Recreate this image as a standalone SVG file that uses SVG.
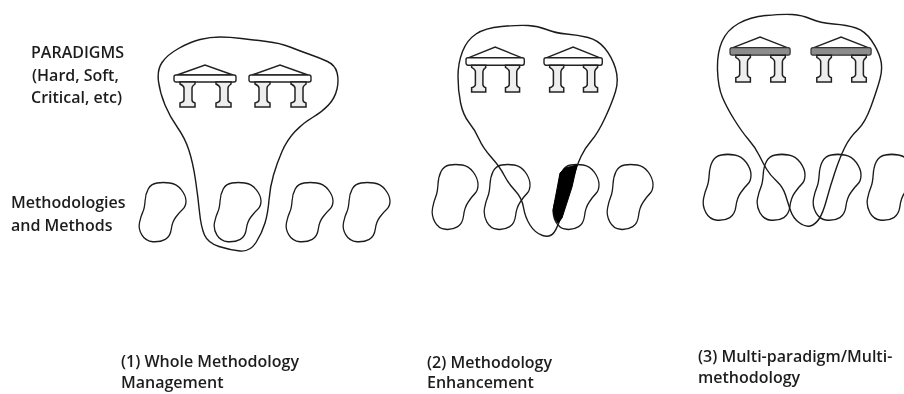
<svg xmlns="http://www.w3.org/2000/svg" width="904" height="394" viewBox="0 0 904 394">
<style>
.o{fill:none;stroke:#1a1a1a;stroke-width:1.4;stroke-linejoin:round}
.b{fill:none;stroke:#1a1a1a;stroke-width:1.4;vector-effect:non-scaling-stroke}
.t{fill:#fff;stroke:#222;stroke-width:1.4;vector-effect:non-scaling-stroke}
.c{fill:#eee;stroke:#222;stroke-width:1.5;vector-effect:non-scaling-stroke}
.tg{fill:#8c8c8c;stroke:#333;stroke-width:1.2;vector-effect:non-scaling-stroke}
text{font-family:"Open Sans","Liberation Sans",sans-serif;font-size:16px;font-weight:600;fill:#1f1f1f}
</style>
<defs>
<filter id="soft" x="-2%" y="-2%" width="104%" height="104%"><feGaussianBlur stdDeviation="0.35"/></filter>
<path id="blob" d="M9,5 Q12,0 18.5,-1 Q25,-2 32.5,-1 Q40,0 45,6 Q50,12 50,17.5 Q50,23 46.5,26 Q43,29 39,34 Q35,39 34,46.5 Q33,54 27.5,57 Q22,60 14,59.5 Q6,59 2,52.5 Q-2,46 -.5,39.5 Q1,33 3,29 Q5,25 5.5,17.5 Q6,10 9,5 Z"/>
<g id="temple">
<path class="t" d="M3,10 L31,0 L59,10 Z"/>
<rect class="t" x="0" y="10" width="62" height="7" rx="2"/>
<path class="c" d="M6,17 H21 V19 Q18,21 18,23 V35 Q18,37 21,38 V42 H6 V38 Q10,37 10,35 V23 Q10,21 6,19 Z"/>
<path class="c" d="M42,17 H57 V19 Q54,21 54,23 V35 Q54,37 57,38 V42 H42 V38 Q46,37 46,35 V23 Q46,21 42,19 Z"/>
</g>
<g id="templeg">
<path class="t" d="M3,10 L31,0 L59,10 Z"/>
<rect class="tg" x="0" y="10" width="62" height="7" rx="2"/>
<path class="c" d="M6,17 H21 V19 Q18,21 18,23 V35 Q18,37 21,38 V42 H6 V38 Q10,37 10,35 V23 Q10,21 6,19 Z"/>
<path class="c" d="M42,17 H57 V19 Q54,21 54,23 V35 Q54,37 57,38 V42 H42 V38 Q46,37 46,35 V23 Q46,21 42,19 Z"/>
</g>
</defs>

<g id="panel1" filter="url(#soft)">
<path class="o" d="M220,37 Q230,37 241.5,38.5 Q253,40 266.5,41.5 Q280,43 290,47 Q300,51 310,54.5 Q320,58 327.5,61.5 Q335,65 337,72.5 Q339,80 337,89 Q335,98 328.5,105 Q322,112 312.5,117.5 Q303,123 295,131.5 Q287,140 282,151.5 Q277,163 273.5,175 Q270,187 269,200 Q268,213 265,223 Q262,233 256,242.5 Q250,252 240,251 Q230,250 219,246.5 Q208,243 204.5,235 Q201,227 199.5,212 Q198,197 195.5,180 Q193,163 189,150.5 Q185,138 177.5,127.5 Q170,117 165,105 Q160,93 158.5,81.5 Q157,70 162,62.5 Q167,55 178.5,48.5 Q190,42 200,39.5 Q210,37 220,37 Z"/>
<use href="#temple" transform="translate(174,65)"/>
<use href="#temple" transform="translate(249,65)"/>
<use class="b" href="#blob" transform="translate(140,184) scale(.92,.97)"/>
<use class="b" href="#blob" transform="translate(215,184) scale(.92,.97)"/>
<use class="b" href="#blob" transform="translate(287,184) scale(.92,.97)"/>
<use class="b" href="#blob" transform="translate(344,184) scale(.92,.97)"/>
</g>

<g id="panel2" filter="url(#soft)">
<path class="o" d="M501.5,26.5 Q518,25 528,25.5 Q538,26 546.5,29.5 Q555,33 566.5,34 Q578,35 588,37.5 Q598,40 605,48.5 Q612,57 615.5,68.5 Q619,80 615.5,91.5 Q612,103 605,118 Q598,133 591.5,140.5 Q585,148 581,156.5 Q577,165 572,181 Q567,197 562.5,212 Q558,227 554,232.5 Q550,238 542.5,235.5 Q535,233 530,225 Q525,217 523.5,207.5 Q522,198 515,190.5 Q508,183 504,175 Q500,167 491.5,157.5 Q483,148 479,139 Q475,130 469,122.5 Q463,115 460.5,102.5 Q458,90 458,76.5 Q458,63 462.5,51.5 Q467,40 476,34 Q485,28 501.5,26.5 Z"/>
<use href="#temple" transform="translate(466,47) scale(.94,1.07)"/>
<use href="#temple" transform="translate(544,47) scale(.94,1.07)"/>
<use class="b" href="#blob" transform="translate(433,166) scale(.9,1.065)"/>
<use class="b" href="#blob" transform="translate(485,166) scale(.9,1.065)"/>
<use class="b" href="#blob" transform="translate(554,166) scale(.9,1.065)"/>
<use class="b" href="#blob" transform="translate(608,166) scale(.9,1.065)"/>
<path fill="#000" stroke="#000" d="M577,165 L565,168 L560,173 L553,210 Q554,219 558,223 L562,218 L572,187 Z"/>
</g>

<g id="panel3" filter="url(#soft)">
<path class="o" d="M766,15.5 Q782,14 792,14.5 Q802,15 811,19 Q820,23 833.5,24 Q847,25 856,28 Q865,31 871.5,40.5 Q878,50 880.5,59 Q883,68 880,79 Q877,90 871,106.5 Q865,123 857.5,130 Q850,137 845,147 Q840,157 835,172 Q830,187 826.5,200 Q823,213 819,219 Q815,225 810,226 Q805,227 799,222.5 Q793,218 790.5,210.5 Q788,203 785.5,195 Q783,187 776.5,181 Q770,175 766.5,169 Q763,163 759,155 Q755,147 748.5,139.5 Q742,132 734.5,120 Q727,108 722.5,97.5 Q718,87 717.5,70 Q717,53 722,41.5 Q727,30 738.5,23.5 Q750,17 766,15.5 Z"/>
<use href="#templeg" transform="translate(730,37) scale(.97,1.07)"/>
<use href="#templeg" transform="translate(811,37) scale(.97,1.07)"/>
<use class="b" href="#blob" transform="translate(704,156) scale(.94,1.08)"/>
<use class="b" href="#blob" transform="translate(758,156) scale(.94,1.08)"/>
<use class="b" href="#blob" transform="translate(814,156) scale(.94,1.08)"/>
<use class="b" href="#blob" transform="translate(868,156) scale(.94,1.08)"/>
</g>

<g id="labels" filter="url(#soft)">
<text x="31" y="58">PARADIGMS</text>
<text x="32" y="81">(Hard, Soft,</text>
<text x="31" y="103">Critical, etc)</text>
<text x="11" y="208">Methodologies</text>
<text x="11" y="231">and Methods</text>
<text x="121" y="367">(1) Whole Methodology</text>
<text x="121" y="388">Management</text>
<text x="427" y="368">(2) Methodology</text>
<text x="427" y="388">Enhancement</text>
<text x="698" y="362">(3) Multi-paradigm/Multi-</text>
<text x="698" y="383">methodology</text>
</g>
</svg>
